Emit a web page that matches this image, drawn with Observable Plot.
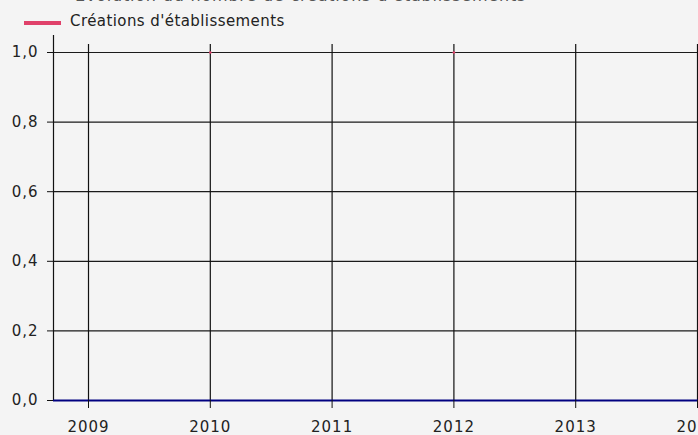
<!DOCTYPE html>
<html><head><meta charset="utf-8">
<script src="https://cdn.jsdelivr.net/npm/d3@7"></script>
<script src="https://cdn.jsdelivr.net/npm/@observablehq/plot@0.6"></script>
<style>
html,body{margin:0;padding:0;background:#f4f4f4;overflow:hidden;width:698px;height:435px;font-family:"DejaVu Sans",Verdana,sans-serif;}
#wrap{position:relative;width:698px;height:435px;overflow:hidden;}
#title{position:absolute;left:75px;top:-13px;font-size:16px;line-height:18px;color:#555;white-space:nowrap;letter-spacing:0.8px;}
#legend{position:absolute;left:24px;top:13px;display:flex;align-items:center;font-size:15px;line-height:17px;color:#222;white-space:nowrap;letter-spacing:0.42px;}
#legend .sw{display:inline-block;width:37px;height:4px;background:#e0416a;margin-right:9px;position:relative;top:1.5px;}
#chart{position:absolute;left:0;top:0;width:740px;}
#chart svg{max-width:none !important;}
#chart svg text{letter-spacing:1px;}
</style></head>
<body><div id="wrap">
<div id="chart"></div>
<div id="title">Évolution du nombre de créations d'établissements</div>
<div id="legend"><span class="sw"></span><span>Créations d'établissements</span></div>
</div>
<script>
const years = [2009, 2010, 2011, 2012, 2013, 2014];
const creations = [null, 1, null, 1, null, null];
const yTicks = [0, 0.2, 0.4, 0.6, 0.8, 1.0];
const seriesName = "Créations d'établissements";

const data = years.map((y, i) => ({year: y, value: creations[i]})).filter(d => d.value != null);
const xMin = 2008.7126, xMax = 2014.353;
const yTop = 1.023;
const fr = d3.formatLocale({decimal: ",", thousands: " ", grouping: [3], currency: ["", " €"]});
const fmt = fr.format(".1f");

const plot = Plot.plot({
  width: 740, height: 435,
  marginLeft: 53, marginRight: 0, marginTop: 44, marginBottom: 35,
  style: {background: "transparent", fontFamily: "DejaVu Sans, Verdana, sans-serif", fontSize: "15px", color: "#222", maxWidth: "none"},
  x: {domain: [xMin, xMax], axis: null, label: null},
  y: {domain: [0, yTop], axis: null, label: null},
  marks: [
    Plot.ruleY(yTicks, {x1: xMin, x2: xMax, stroke: "#1a1a1a", strokeWidth: 1.2}),
    Plot.ruleX(years, {y1: 0, y2: yTop, stroke: "#111", strokeWidth: 1.2}),
    Plot.ruleX([xMin], {y1: 0, y2: 1.049, stroke: "#111", strokeWidth: 1.2}),
    Plot.ruleY([0], {x1: xMin, x2: xMax, stroke: "#000080", strokeWidth: 2}),
    Plot.dot(data, {x: "year", y: "value", r: 1.3, fill: "#e0416a", stroke: null, title: () => seriesName}),
    Plot.axisX(years, {tickSize: 8, tickPadding: 13, tickFormat: d => String(d), stroke: "#111", fontSize: 15, fill: "#222", label: null}),
    Plot.axisY(yTicks, {tickSize: 6, tickPadding: 9, tickFormat: fmt, stroke: "#111", fontSize: 15, fill: "#222", label: null})
  ]
});
document.getElementById("chart").appendChild(plot);
</script>
</body></html>
